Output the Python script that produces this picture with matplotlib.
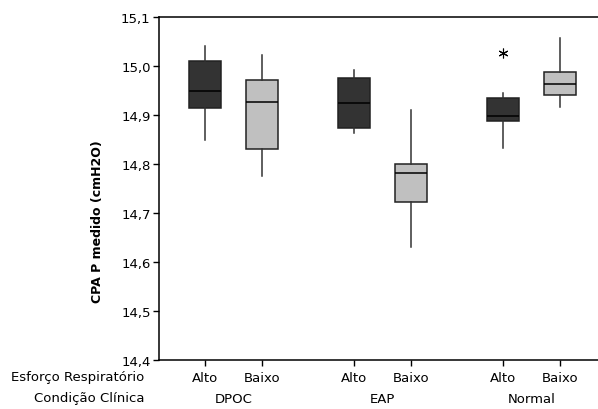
import matplotlib
matplotlib.use('Agg')
import matplotlib.pyplot as plt

# box stats (cmH2O)
groups = ['DPOC', 'EAP', 'Normal']
esforco = ['Alto', 'Baixo', 'Alto', 'Baixo', 'Alto', 'Baixo']
whislo = [14.850, 14.776, 14.863, 14.630, 14.833, 14.916]
q1 = [14.914, 14.831, 14.874, 14.723, 14.888, 14.941]
med = [14.950, 14.926, 14.924, 14.782, 14.897, 14.963]
q3 = [15.010, 14.971, 14.976, 14.799, 14.935, 14.988]
whishi = [15.041, 15.023, 14.992, 14.910, 14.944, 15.057]
outliers = [[], [], [], [], [15.027], []]
yticks = [14.4, 14.5, 14.6, 14.7, 14.8, 14.9, 15.0, 15.1]

positions = [0, 1, 2.6, 3.6, 5.2, 6.2]
colors = ['#333333', '#c0c0c0'] * 3

plt.rcParams['font.family'] = ['DejaVu Sans']
fs = 9.5

fig = plt.figure(figsize=(5.98, 4.10), dpi=100)
ax = fig.add_axes([159 / 598, 49 / 410, 1 - 159 / 598, 343 / 410])

stats = []
for i in range(len(positions)):
    stats.append({'whislo': whislo[i], 'q1': q1[i], 'med': med[i],
                  'q3': q3[i], 'whishi': whishi[i], 'fliers': outliers[i]})

bp = ax.bxp(stats, positions=positions, widths=0.56, patch_artist=True,
            showcaps=False,
            boxprops=dict(edgecolor='#222222', linewidth=1.1),
            medianprops=dict(color='black', linewidth=1.1),
            whiskerprops=dict(color='#333333', linewidth=1.1),
            flierprops=dict(marker=(6, 2, 0), markersize=7,
                            markeredgecolor='black', markeredgewidth=0.8))
for patch, c in zip(bp['boxes'], colors):
    patch.set_facecolor(c)

ax.set_xlim(-0.803, 6.86)
ax.set_ylim(14.4, 15.1)
ax.set_yticks(yticks)
ax.set_yticklabels([f'{v:.1f}'.replace('.', ',') for v in yticks], fontsize=fs)
ax.set_xticks(positions)
ax.set_xticklabels(esforco, fontsize=fs)
ax.tick_params(axis='y', direction='out', length=4, width=1, pad=2)
ax.tick_params(axis='x', direction='out', length=4, width=1, pad=4)
ax.spines['right'].set_visible(False)
for s in ['top', 'bottom', 'left']:
    ax.spines[s].set_linewidth(1.1)

fig.text(97 / 598, 1 - 222 / 410, 'CPA P medido (cmH2O)', rotation=90,
         ha='center', va='center', fontsize=9, fontweight='bold')

fig.text(144 / 598, 1 - 378 / 410, 'Esforço Respiratório', ha='right',
         va='center', fontsize=fs)
fig.text(144 / 598, 1 - 399 / 410, 'Condição Clínica', ha='right',
         va='center', fontsize=fs)
for k, g in enumerate(groups):
    xc = (positions[2 * k] + positions[2 * k + 1]) / 2
    ax.text(xc, -0.111, g, transform=ax.get_xaxis_transform(),
            ha='center', va='center', fontsize=fs)

fig.savefig('out.png', dpi=100)
